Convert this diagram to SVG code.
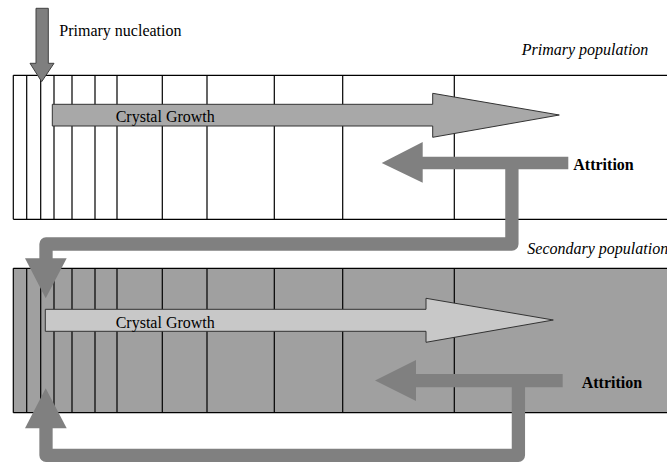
<svg xmlns="http://www.w3.org/2000/svg" width="667" height="466" viewBox="0 0 667 466">
  <style>
    .grid { stroke: #000; stroke-width: 1.2; fill: none; }
    text { font-family: 'Liberation Serif', 'DejaVu Serif', serif; font-size: 16px; fill: #000; }
    .ital { font-style: italic; }
    .bold { font-weight: bold; }
    .flow { fill: none; stroke: #808080; stroke-width: 13.3; stroke-linejoin: round; }
    .head { fill: #808080; }
  </style>
  <rect width="667" height="466" fill="#fff"/>

  <!-- Primary population band -->
  <g id="primary-population">
    <path class="grid" d="M13.3,75.3 H667 M13.3,219.3 H667 M13.3,75.3 V219.3 M26.7,75.3 V219.3 M40.7,75.3 V219.3 M54,75.3 V219.3 M72,75.3 V219.3 M95,75.3 V219.3 M117,75.3 V219.3 M162.3,75.3 V219.3 M207,75.3 V219.3 M274.3,75.3 V219.3 M342.7,75.3 V219.3 M454.3,75.3 V219.3"/>
    <text class="ital" x="521.7" y="55">Primary population</text>
  </g>

  <!-- Secondary population band -->
  <g id="secondary-population">
    <rect x="13.3" y="268.3" width="654" height="144.4" fill="#a0a0a0"/>
    <path class="grid" d="M13.3,268.3 H667 M13.3,412.7 H667 M13.3,268.3 V412.7 M26.7,268.3 V412.7 M40.7,268.3 V412.7 M54,268.3 V412.7 M72,268.3 V412.7 M95,268.3 V412.7 M117,268.3 V412.7 M162.3,268.3 V412.7 M207,268.3 V412.7 M274.3,268.3 V412.7 M342.7,268.3 V412.7 M454.3,268.3 V412.7"/>
    <text class="ital" x="527.3" y="254.3">Secondary population</text>
  </g>

  <!-- Primary nucleation arrow -->
  <g id="primary-nucleation">
    <polygon points="36,8.3 48.3,8.3 48.3,63.3 54,63.3 41.7,81.7 30,63.3 36,63.3" fill="#7f7f7f" stroke="#404040" stroke-width="1"/>
    <text x="59.3" y="36">Primary nucleation</text>
  </g>

  <!-- Crystal growth, primary -->
  <g id="growth-primary">
    <polygon points="52.3,104.3 432.7,104.3 432.7,93.3 559.3,115 432.7,137.3 432.7,126 52.3,126" fill="#a8a8a8" stroke="#333" stroke-width="1"/>
    <text x="115.7" y="121.7">Crystal Growth</text>
  </g>

  <!-- Crystal growth, secondary -->
  <g id="growth-secondary">
    <polygon points="45.3,309.3 426,309.3 426,298.3 553.3,320 426,342.3 426,331.3 45.3,331.3" fill="#c8c8c8" stroke="#333" stroke-width="1"/>
    <text x="115.7" y="328.3">Crystal Growth</text>
  </g>

  <!-- Attrition, primary -->
  <g id="attrition-primary">
    <polygon class="head" points="568.3,156.7 422.7,156.7 422.7,142 381.7,163 422.7,182.7 422.7,169.3 568.3,169.3"/>
    <text class="bold" x="573.3" y="170">Attrition</text>
  </g>

  <!-- Attrition, secondary -->
  <g id="attrition-secondary">
    <polygon class="head" points="562.7,374 416,374 416,360 375,380.5 416,401 416,387.3 562.7,387.3"/>
    <text class="bold" x="581.7" y="388.3">Attrition</text>
  </g>

  <!-- Feedback connectors -->
  <g id="connectors">
    <path class="flow" d="M511.9,168 V244 H46 V259"/>
    <polygon class="head" points="25,258.3 66.7,258.3 45.7,298.3"/>
    <path class="flow" d="M518.4,386 V455.3 H46 V427"/>
    <polygon class="head" points="25,428.3 66.7,428.3 45.7,388.3"/>
  </g>
</svg>
